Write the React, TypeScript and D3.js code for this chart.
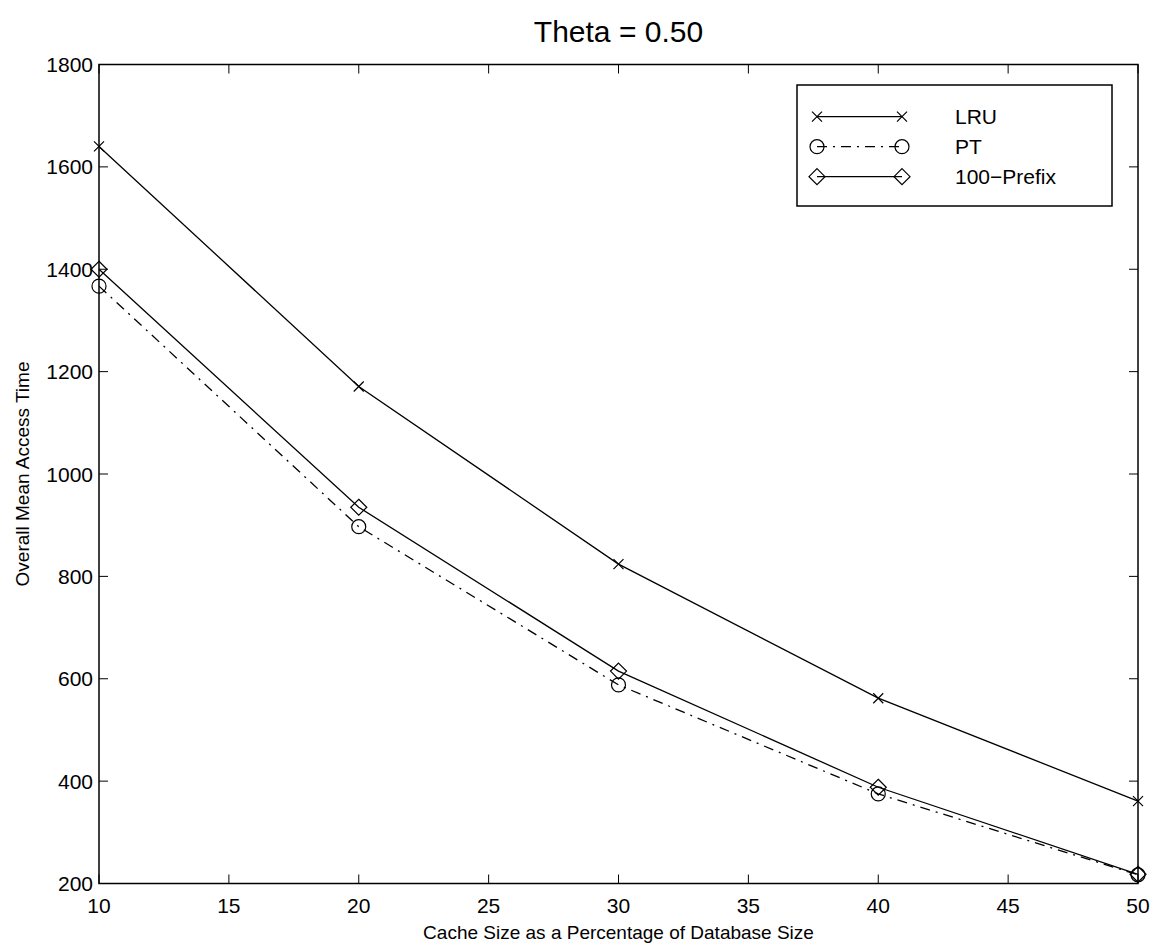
import React, { useEffect, useRef } from 'react';
import * as d3 from 'd3';

const cacheSizes = [10, 20, 30, 40, 50];
const lruValues = [1640, 1171, 824, 562, 361];
const ptValues = [1367, 897, 588, 375, 217];
const prefixValues = [1400, 935, 615, 388, 218];
const xTicks = [10, 15, 20, 25, 30, 35, 40, 45, 50];
const yTicks = [200, 400, 600, 800, 1000, 1200, 1400, 1600, 1800];
const seriesNames = ['LRU', 'PT', '100\u2212Prefix'];

const App = () => {
  const ref = useRef<SVGSVGElement>(null);

  useEffect(() => {
    const svg = d3.select(ref.current);
    svg.selectAll('*').remove();

    const left = 99, right = 1138, top = 64.5, bottom = 883.5;
    const font = 'Liberation Sans, Arial, sans-serif';

    const x = d3.scaleLinear().domain([10, 50]).range([left, right]);
    const y = d3.scaleLinear().domain([200, 1800]).range([bottom, top]);

    // axes box
    svg.append('rect')
      .attr('x', left).attr('y', top)
      .attr('width', right - left).attr('height', bottom - top)
      .attr('fill', 'none').attr('stroke', '#000').attr('stroke-width', 1.5);

    const tickLen = 9;
    // x ticks
    xTicks.forEach((t) => {
      svg.append('line').attr('x1', x(t)).attr('x2', x(t)).attr('y1', bottom).attr('y2', bottom - tickLen)
        .attr('stroke', '#000').attr('stroke-width', 1);
      svg.append('line').attr('x1', x(t)).attr('x2', x(t)).attr('y1', top).attr('y2', top + tickLen)
        .attr('stroke', '#000').attr('stroke-width', 1);
      svg.append('text').attr('x', x(t)).attr('y', bottom + 29)
        .attr('text-anchor', 'middle').attr('font-family', font).attr('font-size', 21)
        .text(t);
    });
    // y ticks
    yTicks.forEach((t) => {
      svg.append('line').attr('x1', left).attr('x2', left + tickLen).attr('y1', y(t)).attr('y2', y(t))
        .attr('stroke', '#000').attr('stroke-width', 1);
      svg.append('line').attr('x1', right).attr('x2', right - tickLen).attr('y1', y(t)).attr('y2', y(t))
        .attr('stroke', '#000').attr('stroke-width', 1);
      svg.append('text').attr('x', left - 6).attr('y', y(t) + 7.5)
        .attr('text-anchor', 'end').attr('font-family', font).attr('font-size', 21)
        .text(t);
    });

    // title and axis labels
    svg.append('text').attr('x', (left + right) / 2).attr('y', 42)
      .attr('text-anchor', 'middle').attr('font-family', font).attr('font-size', 30)
      .text('Theta = 0.50');
    svg.append('text').attr('x', (left + right) / 2).attr('y', 939)
      .attr('text-anchor', 'middle').attr('font-family', font).attr('font-size', 19)
      .text('Cache Size as a Percentage of Database Size');
    svg.append('text')
      .attr('transform', `translate(29,${(top + bottom) / 2}) rotate(-90)`)
      .attr('text-anchor', 'middle').attr('font-family', font).attr('font-size', 19)
      .text('Overall Mean Access Time');

    const line = d3.line<number>().x((d, i) => x(cacheSizes[i])).y((d) => y(d));

    const drawMarker = (g: any, kind: string, cx: number, cy: number) => {
      if (kind === 'x') {
        const s = 5;
        g.append('path').attr('d', `M${cx - s},${cy - s}L${cx + s},${cy + s}M${cx - s},${cy + s}L${cx + s},${cy - s}`)
          .attr('stroke', '#000').attr('stroke-width', 1.2).attr('fill', 'none');
      } else if (kind === 'o') {
        g.append('circle').attr('cx', cx).attr('cy', cy).attr('r', 7)
          .attr('stroke', '#000').attr('stroke-width', 1.2).attr('fill', 'none');
      } else {
        const s = 8;
        g.append('path').attr('d', `M${cx},${cy - s}L${cx + s},${cy}L${cx},${cy + s}L${cx - s},${cy}Z`)
          .attr('stroke', '#000').attr('stroke-width', 1.2).attr('fill', 'none');
      }
    };

    const series = [
      { values: lruValues, marker: 'x', dash: null },
      { values: ptValues, marker: 'o', dash: '10,6,2,6' },
      { values: prefixValues, marker: 'd', dash: null },
    ];

    series.forEach((s) => {
      const g = svg.append('g');
      g.append('path').attr('d', line(s.values))
        .attr('fill', 'none').attr('stroke', '#000').attr('stroke-width', 1.3)
        .attr('stroke-dasharray', s.dash);
      s.values.forEach((v, i) => drawMarker(g, s.marker, x(cacheSizes[i]), y(v)));
    });

    // legend
    const lx = 797, ly = 85, lw = 315, lh = 121;
    svg.append('rect').attr('x', lx).attr('y', ly).attr('width', lw).attr('height', lh)
      .attr('fill', '#fff').attr('stroke', '#000').attr('stroke-width', 1.5);
    series.forEach((s, i) => {
      const ry = 116.7 + i * 30;
      const g = svg.append('g');
      g.append('line').attr('x1', 817).attr('x2', 902).attr('y1', ry).attr('y2', ry)
        .attr('stroke', '#000').attr('stroke-width', 1.3).attr('stroke-dasharray', s.dash);
      drawMarker(g, s.marker, 817, ry);
      drawMarker(g, s.marker, 902, ry);
      g.append('text').attr('x', 955).attr('y', ry + 7.5)
        .attr('font-family', font).attr('font-size', 21).text(seriesNames[i]);
    });
  }, []);

  return (
    <svg ref={ref} width={1160} height={950}
      style={{ position: 'absolute', left: 0, top: 0, display: 'block', background: '#fff' }} />
  );
};

export default App;
